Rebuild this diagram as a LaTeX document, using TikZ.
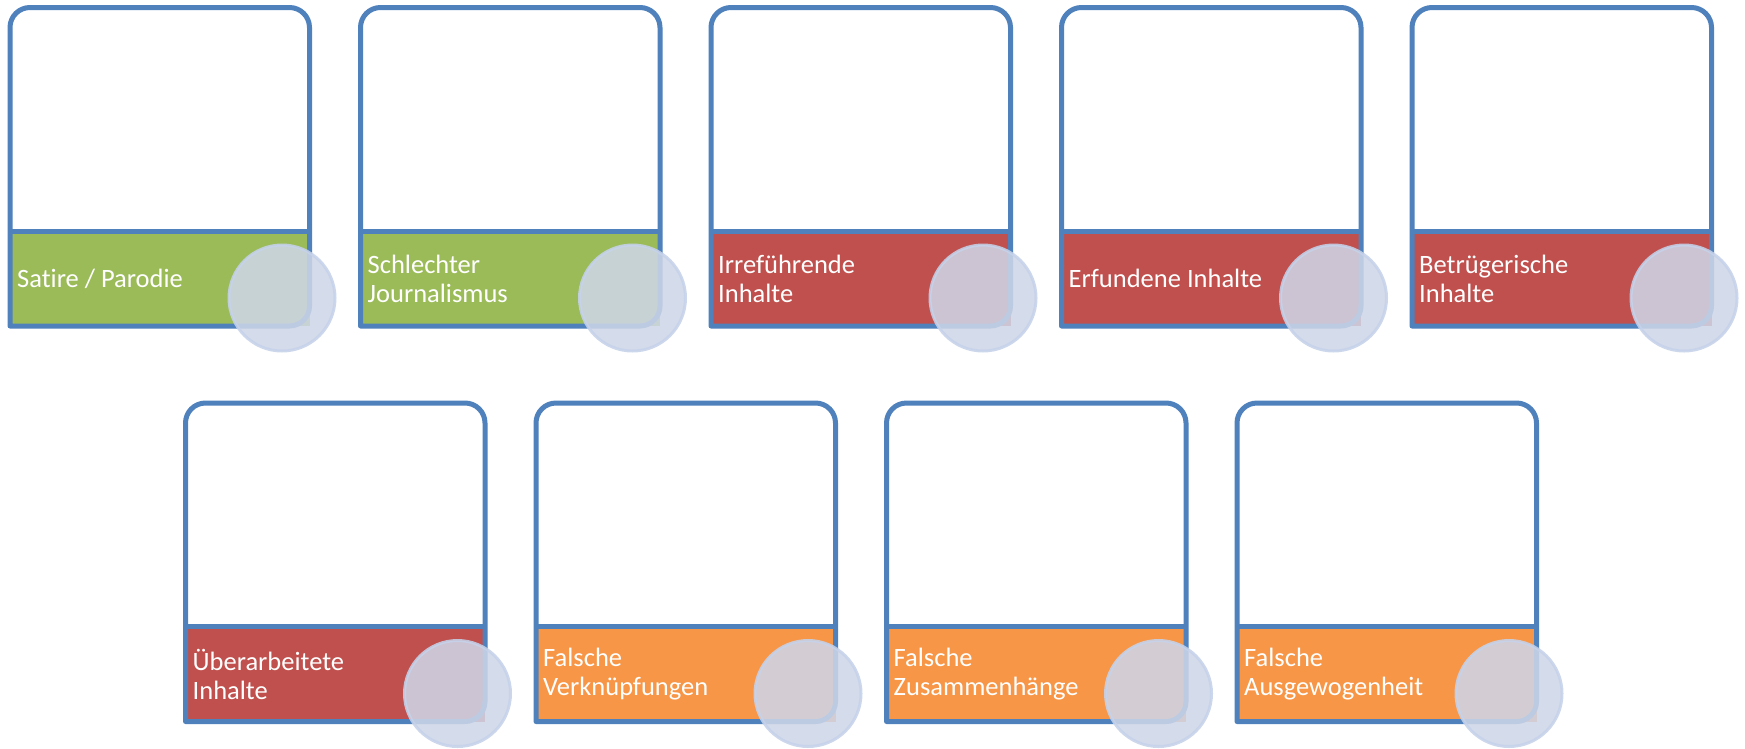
\documentclass[tikz,border=0pt]{standalone}
\usepackage{fontspec}
\setmainfont{Carlito}[Ligatures=NoCommon]
\definecolor{frameblue}{HTML}{4F81BD}
\definecolor{cgreen}{HTML}{9BBB59}
\definecolor{cred}{HTML}{C0504D}
\definecolor{corange}{HTML}{F79646}
\definecolor{circfill}{HTML}{CED6E8}
\definecolor{circring}{HTML}{C6D2EA}
\tikzset{
  frame/.style={draw=frameblue, line width=5pt, line join=round},
  lbl/.style={anchor=west, inner sep=0pt, text=white, align=left,
    font=\fontsize{26.5}{29}\selectfont},
  circ/.style={fill=circfill, draw=circring, line width=3pt, opacity=0.87},
}
\newcommand{\mycard}[5]{%
  \fill[#4] (#2,#3+223.5) rectangle (#2+299.5,#3+318.5);
  \draw[frame] (#2,#3+318.5) [rounded corners=20pt] -- (#2,#3) -- (#2+299.5,#3) -- (#2+299.5,#3+318.5) [sharp corners] -- cycle;
  \draw[frame] (#2,#3+223.5) -- (#2+299.5,#3+223.5);
  \node[lbl] (#1) at (#2+7,#3+271) {#5};
  \path[circ] (#2+272,#3+290.5) circle[radius=53];
}
\begin{document}
\begin{tikzpicture}[x=1pt,y=-1pt]
\useasboundingbox[fill=white] (0,0) rectangle (1745,748);
\mycard{c1}{10}{7.5}{cgreen}{Satire / Parodie}
\mycard{c2}{360.5}{7.5}{cgreen}{Schlechter\\Journalismus}
\mycard{c3}{711}{7.5}{cred}{Irreführende\\Inhalte}
\mycard{c4}{1061.5}{7.5}{cred}{Erfundene Inhalte}
\mycard{c5}{1412}{7.5}{cred}{Betrügerische\\Inhalte}
\mycard{c6}{185.5}{403}{cred}{Überarbeitete\\Inhalte}
\mycard{c7}{536}{403}{corange}{Falsche\\Verknüpfungen}
\mycard{c8}{886.5}{403}{corange}{Falsche\\Zusammenhänge}
\mycard{c9}{1237}{403}{corange}{Falsche\\Ausgewogenheit}
\end{tikzpicture}
\end{document}
